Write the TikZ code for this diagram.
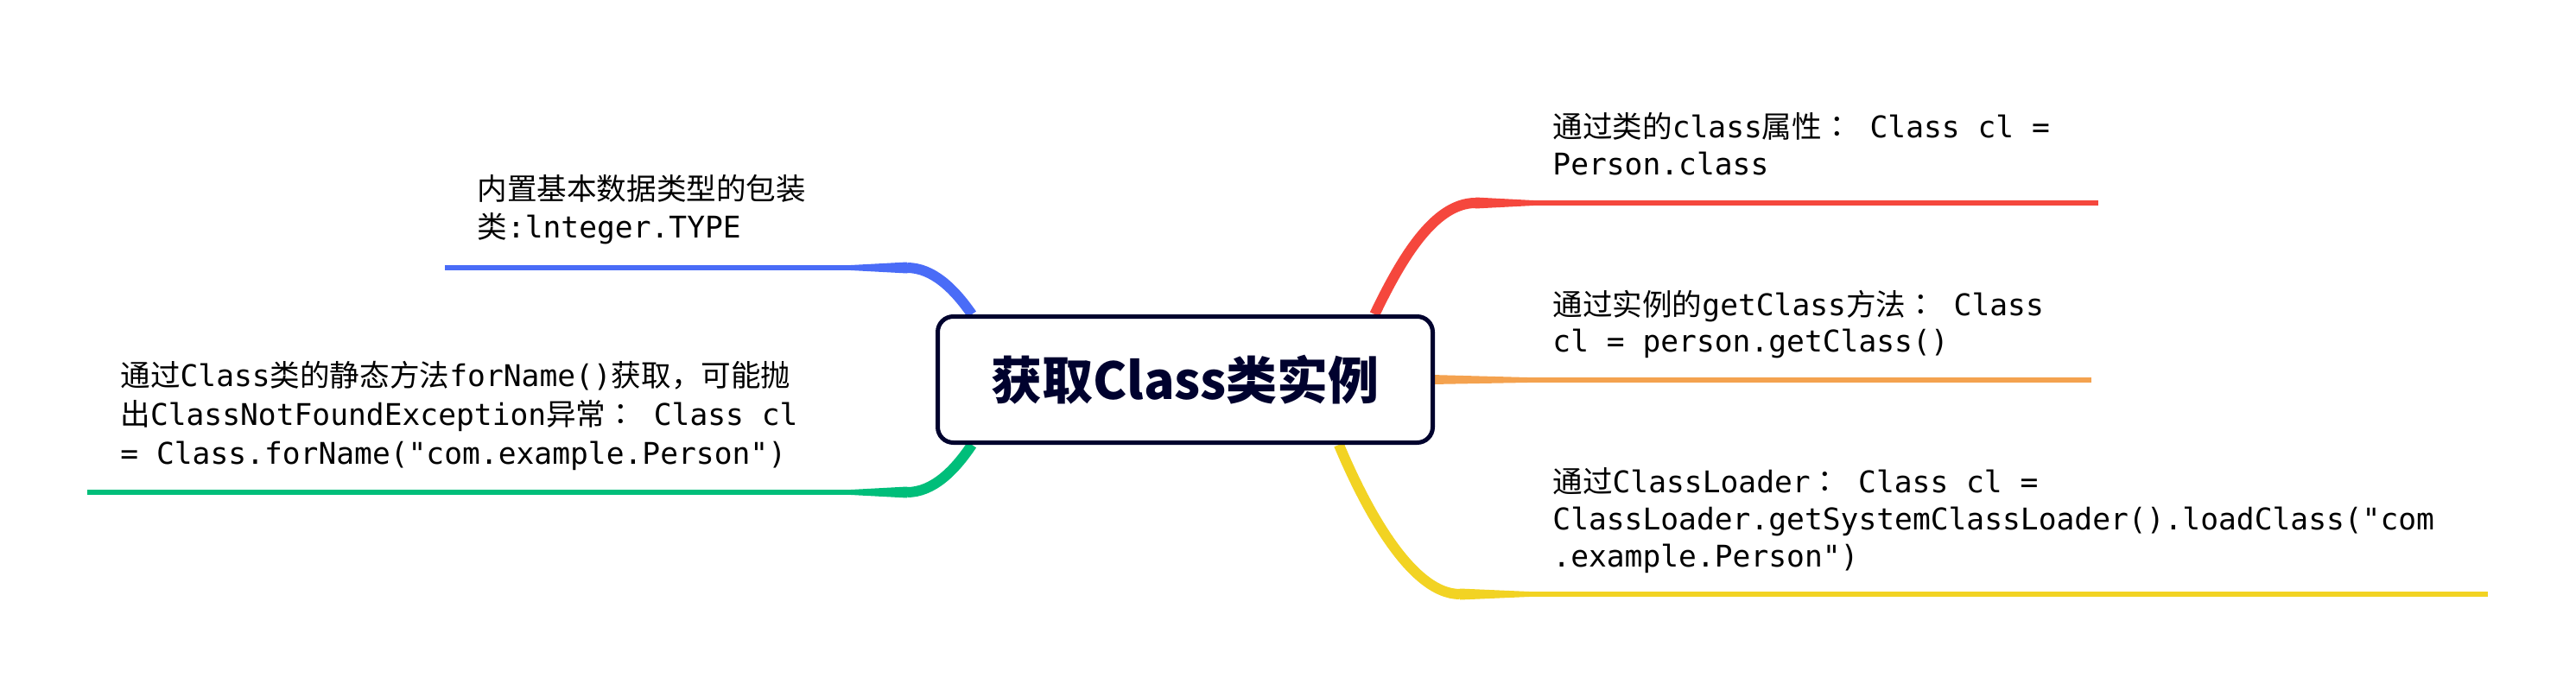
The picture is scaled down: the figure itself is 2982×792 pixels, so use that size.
\documentclass[tikz,border=0pt]{standalone}
\usepackage{fontspec}
\newfontfamily\cjk{Noto Sans CJK SC}
\newfontfamily\cjktc{Noto Sans CJK TC}
\newfontfamily\cjkb{Noto Sans CJK SC Black}
\newfontfamily\mono{DejaVu Sans Mono}
\usetikzlibrary{calc,backgrounds}
\definecolor{navy}{HTML}{00022E}
\definecolor{bRed}{HTML}{F5473D}
\definecolor{bOrange}{HTML}{F4A24F}
\definecolor{bYellow}{HTML}{F2D323}
\definecolor{bBlue}{HTML}{4A6CF7}
\definecolor{bGreen}{HTML}{00BE7A}
\newcommand\linesbox[2]{\vtop{\baselineskip=#1\lineskiplimit=-\maxdimen\lineskip=0pt #2}}
\newcommand\ccolon{{\cjktc ：}}
\begin{document}
\begin{tikzpicture}[x=0.5pt,y=-0.5pt,
  rootbox/.style={draw=navy, line width=2.5pt, rounded corners=9pt, fill=white,
    minimum width=286.5pt, minimum height=73pt, inner sep=0pt,
    font=\cjkb\fontsize{29.5}{32}\selectfont, text=navy},
  topic/.style={anchor=base west, inner sep=0pt, font=\mono\fontsize{17.3}{21.5}\selectfont, text=black},
  curve/.style={line width=6pt, line cap=butt},
  stem/.style={line width=3pt},
]
\useasboundingbox (0,0) rectangle (2982,792);
\node[rootbox] (root) at (1372,439.5) {获取Class类实例};

\begin{scope}[on background layer]
  \fill[white] (0,0) rectangle (2982,792);
  % red
  \coordinate (rJ) at (1708,235);
  \coordinate (rT) at (1775,235);
  \coordinate (rE) at (2429,235);
  \draw[curve,bRed] (root.19.5) .. controls (1622,300) and (1660,235) .. (rJ);
  \fill[bRed] ($(rJ)+(0,-6.5)$) -- ($(rT)+(0,-3)$) -- ($(rT)+(0,3)$) -- ($(rJ)+(0,6.5)$) -- cycle;
  \draw[stem,bRed] (rJ) -- (rE);
  % orange
  \coordinate (oT) at (1768,440);
  \coordinate (oE) at (2421,440);
  \fill[bOrange] ($(root.east)+(-4,-5.5)$) -- ($(oT)+(0,-3)$) -- ($(oT)+(0,3)$) -- ($(root.east)+(-4,5.5)$) -- cycle;
  \draw[stem,bOrange] (oT) -- (oE);
  % yellow
  \coordinate (yJ) at (1690,688);
  \coordinate (yT) at (1770,688);
  \coordinate (yE) at (2880,688);
  \draw[curve,bYellow] (root.-23.6) .. controls (1575,575) and (1630,688) .. (yJ);
  \fill[bYellow] ($(yJ)+(0,-6.5)$) -- ($(yT)+(0,-3)$) -- ($(yT)+(0,3)$) -- ($(yJ)+(0,6.5)$) -- cycle;
  \draw[stem,bYellow] (yJ) -- (yE);
  % blue
  \coordinate (bJ) at (1050,310);
  \coordinate (bT) at (985,310);
  \coordinate (bE) at (515,310);
  \draw[curve,bBlue] (root.163) .. controls (1105,335) and (1080,310) .. (bJ);
  \fill[bBlue] ($(bJ)+(0,-6.5)$) -- ($(bT)+(0,-3)$) -- ($(bT)+(0,3)$) -- ($(bJ)+(0,6.5)$) -- cycle;
  \draw[stem,bBlue] (bJ) -- (bE);
  % green
  \coordinate (gJ) at (1050,570);
  \coordinate (gT) at (985,570);
  \coordinate (gE) at (101,570);
  \draw[curve,bGreen] (root.197) .. controls (1105,545) and (1080,570) .. (gJ);
  \fill[bGreen] ($(gJ)+(0,-6.5)$) -- ($(gT)+(0,-3)$) -- ($(gT)+(0,3)$) -- ($(gJ)+(0,6.5)$) -- cycle;
  \draw[stem,bGreen] (gJ) -- (gE);
\end{scope}

\node[topic] (tRed) at (1797,160) {\linesbox{21pt}{%
  \hbox{{\cjk 通过类的}class{\cjk 属性}\ccolon{} Class cl =}%
  \hbox{Person.class}}};
\node[topic] (tOrange) at (1797,365) {\linesbox{21pt}{%
  \hbox{{\cjk 通过实例的}getClass{\cjk 方法}\ccolon{} Class}%
  \hbox{cl = person.getClass()}}};
\node[topic] (tYellow) at (1797,570) {\linesbox{21.5pt}{%
  \hbox{{\cjk 通过}ClassLoader\ccolon{} Class cl =}%
  \hbox{ClassLoader.getSystemClassLoader().loadClass("com}%
  \hbox{.example.Person")}}};
\node[topic] (tBlue) at (552,231) {\linesbox{22pt}{%
  \hbox{\cjk 内置基本数据类型的包装}%
  \hbox{{\cjk 类}:lnteger.TYPE}}};
\node[topic] (tGreen) at (139,447) {\linesbox{22.5pt}{%
  \hbox{{\cjk 通过}Class{\cjk 类的静态方法}forName(){\cjk 获取，可能抛}}%
  \hbox{{\cjk 出}ClassNotFoundException{\cjk 异常}\ccolon{} Class cl}%
  \hbox{= Class.forName("com.example.Person")}}};
\end{tikzpicture}
\end{document}
